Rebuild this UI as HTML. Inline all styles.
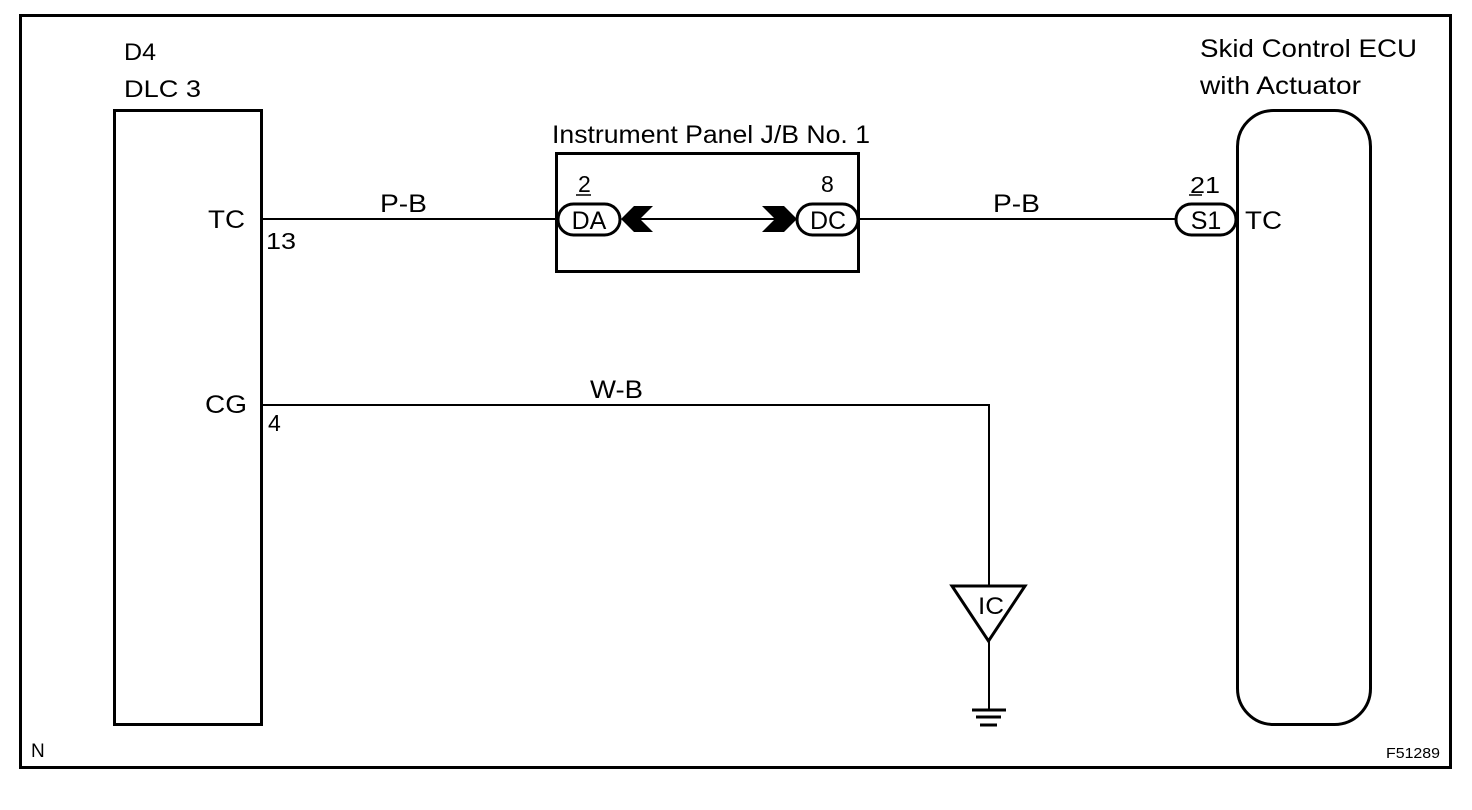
<!DOCTYPE html>
<html><head><style>
html,body{margin:0;padding:0;background:#fff;}
svg{display:block;}
text{font-family:"Liberation Sans",Arial,sans-serif;fill:#000;}
</style></head><body>
<svg width="1472" height="810" viewBox="0 0 1472 810" xmlns="http://www.w3.org/2000/svg">
<rect x="20.5" y="15.5" width="1430" height="752" fill="none" stroke="#000" stroke-width="3"/>
<!-- DLC box -->
<rect x="114.5" y="110.5" width="147" height="614" fill="none" stroke="#000" stroke-width="3"/>
<text x="124" y="60" font-size="24" textLength="32" lengthAdjust="spacingAndGlyphs">D4</text>
<text x="124" y="97" font-size="24" textLength="77" lengthAdjust="spacingAndGlyphs">DLC 3</text>
<text x="208" y="228" font-size="25" textLength="37" lengthAdjust="spacingAndGlyphs">TC</text>
<text x="266" y="249" font-size="23" textLength="30" lengthAdjust="spacingAndGlyphs">13</text>
<text x="205" y="413" font-size="25" textLength="42" lengthAdjust="spacingAndGlyphs">CG</text>
<text x="268" y="431" font-size="23">4</text>
<!-- J/B -->
<rect x="556.5" y="153.5" width="302" height="118" fill="none" stroke="#000" stroke-width="3"/>
<text x="552" y="143" font-size="25" textLength="318" lengthAdjust="spacingAndGlyphs">Instrument Panel J/B No. 1</text>
<line x1="262" y1="219" x2="557" y2="219" stroke="#000" stroke-width="2"/>
<text x="380" y="212" font-size="25" textLength="47" lengthAdjust="spacingAndGlyphs">P-B</text>
<rect x="558" y="204" width="62" height="31" rx="15.5" fill="#fff" stroke="#000" stroke-width="3"/>
<text x="589" y="229" font-size="25" text-anchor="middle">DA</text>
<text x="578" y="192" font-size="23">2</text>
<line x1="576" y1="195" x2="591" y2="195" stroke="#000" stroke-width="1.5"/>
<polygon points="621,219 634,206 653,206 640,219 653,232 634,232" fill="#000"/>
<line x1="640" y1="219" x2="775" y2="219" stroke="#000" stroke-width="2"/>
<polygon points="797,219 784,206 762,206 775,219 762,232 784,232" fill="#000"/>
<rect x="797" y="204" width="61" height="31" rx="15.5" fill="#fff" stroke="#000" stroke-width="3"/>
<text x="828" y="229" font-size="25" text-anchor="middle">DC</text>
<text x="821" y="192" font-size="23">8</text>
<line x1="859" y1="219" x2="1176" y2="219" stroke="#000" stroke-width="2"/>
<text x="993" y="212" font-size="25" textLength="47" lengthAdjust="spacingAndGlyphs">P-B</text>
<!-- ECU -->
<rect x="1237.5" y="110.5" width="133" height="614" rx="36" fill="none" stroke="#000" stroke-width="3"/>
<text x="1200" y="57" font-size="25" textLength="217" lengthAdjust="spacingAndGlyphs">Skid Control ECU</text>
<text x="1200" y="94" font-size="25" textLength="161" lengthAdjust="spacingAndGlyphs">with Actuator</text>
<rect x="1176" y="204" width="60" height="31" rx="15.5" fill="#fff" stroke="#000" stroke-width="3"/>
<text x="1206" y="229" font-size="25" text-anchor="middle">S1</text>
<text x="1190" y="193" font-size="23" textLength="30" lengthAdjust="spacingAndGlyphs">21</text>
<line x1="1189" y1="195" x2="1202" y2="195" stroke="#000" stroke-width="1.5"/>
<text x="1245" y="229" font-size="25" textLength="37" lengthAdjust="spacingAndGlyphs">TC</text>
<!-- ground -->
<polyline points="262,405 989,405 989,586" fill="none" stroke="#000" stroke-width="2"/>
<text x="590" y="398" font-size="25" textLength="53" lengthAdjust="spacingAndGlyphs">W-B</text>
<polygon points="952,586 1025,586 988.5,641" fill="#fff" stroke="#000" stroke-width="3"/>
<text x="978" y="614" font-size="24" textLength="26" lengthAdjust="spacingAndGlyphs">IC</text>
<line x1="989" y1="641" x2="989" y2="710" stroke="#000" stroke-width="2"/>
<line x1="972" y1="710" x2="1006" y2="710" stroke="#000" stroke-width="3"/>
<line x1="976" y1="717" x2="1001" y2="717" stroke="#000" stroke-width="3"/>
<line x1="980" y1="725" x2="997" y2="725" stroke="#000" stroke-width="3"/>
<text x="31" y="757" font-size="19">N</text>
<text x="1386" y="758" font-size="15" textLength="54" lengthAdjust="spacingAndGlyphs">F51289</text>
</svg>
</body></html>
